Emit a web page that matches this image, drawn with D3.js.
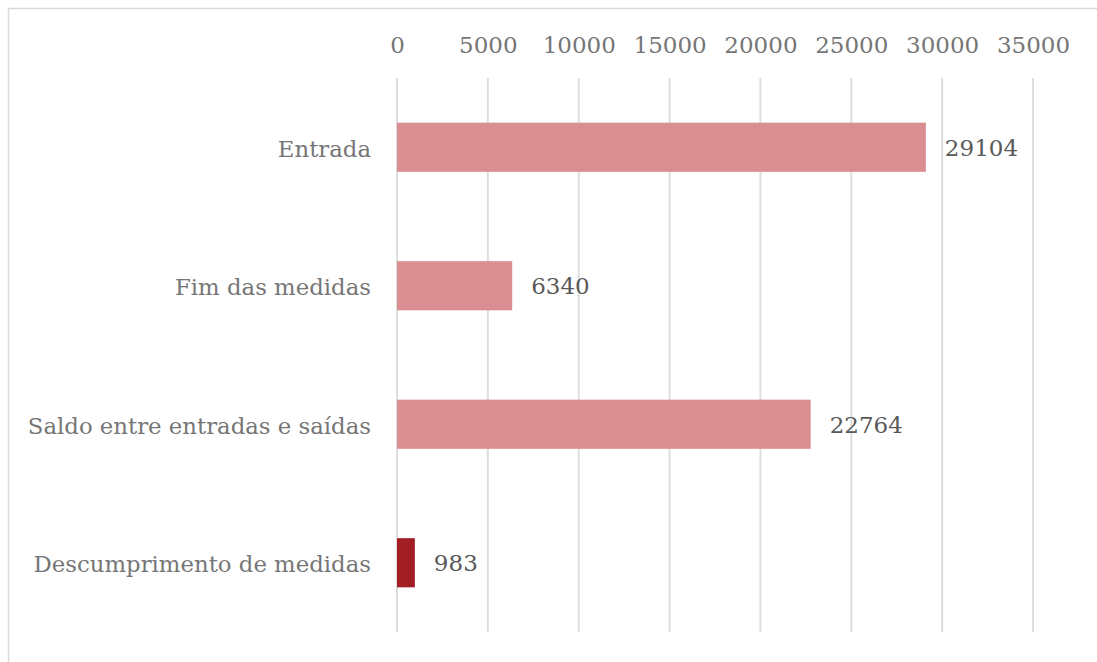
<!DOCTYPE html>
<html>
<head>
<meta charset="utf-8">
<script src="https://cdn.jsdelivr.net/npm/d3@7"></script>
<style>
	body { margin: 0; background: #fff; }
	#chart { width: 1097px; height: 662px; }
	text { font-family: "DejaVu Serif", serif; }
</style>
</head>
<body>
<div id="chart"></div>
<script>
// data
const categories = ['Entrada', 'Fim das medidas', 'Saldo entre entradas e saídas', 'Descumprimento de medidas']
const values = [29104, 6340, 22764, 983]
const barColors = ['#d98f91', '#d98f91', '#d98f91', '#a31d24']
const tickValues = [0, 5000, 10000, 15000, 20000, 25000, 30000, 35000]

const W = 1097, H = 662
const margin = { top: 78, right: 64, bottom: 30, left: 397 }
const width = 1033 - margin.left
const height = 632 - margin.top

const svg = d3.select('#chart').append('svg')
	.attr('width', W)
	.attr('height', H)

// outer frame (only top/left visible in the crop)
svg.append('rect')
	.attr('x', 8.5).attr('y', 8.5)
	.attr('width', W + 10).attr('height', H + 10)
	.attr('fill', 'none')
	.attr('stroke', '#d9d9d9')
	.attr('stroke-width', 1.5)

const g = svg.append('g')
	.attr('transform', `translate(${margin.left},${margin.top})`)

const x = d3.scaleLinear().domain([0, 35000]).range([0, width])
const y = d3.scaleBand().domain(categories).range([0, height]).paddingInner(0.645).paddingOuter(0.3225)

// gridlines
g.selectAll('.grid')
	.data(tickValues)
	.enter().append('line')
	.attr('class', 'grid')
	.attr('x1', d => x(d)).attr('x2', d => x(d))
	.attr('y1', 0).attr('y2', height)
	.attr('stroke', '#dedede')
	.attr('stroke-width', 2)

// top axis labels
const xAxis = g.append('g')
	.call(d3.axisTop(x).tickValues(tickValues).tickFormat(d3.format('d')).tickSize(0).tickPadding(25))
xAxis.select('.domain').remove()
xAxis.selectAll('text')
	.attr('font-size', 23)
	.attr('fill', '#767676')
	.style('font-family', '"DejaVu Serif", serif')

// category labels
const yAxis = g.append('g')
	.call(d3.axisLeft(y).tickSize(0).tickPadding(26))
yAxis.select('.domain').remove()
yAxis.selectAll('text')
	.attr('font-size', 22.8)
	.attr('dy', '0.42em')
	.attr('fill', '#767676')
	.style('font-family', '"DejaVu Serif", serif')

// bars
const data = categories.map((c, i) => ({ cat: c, value: values[i], color: barColors[i] }))
g.selectAll('.bar')
	.data(data)
	.enter().append('rect')
	.attr('class', 'bar')
	.attr('x', x(0))
	.attr('y', d => y(d.cat))
	.attr('width', d => x(d.value) - x(0))
	.attr('height', y.bandwidth())
	.attr('fill', d => d.color)

// value labels
g.selectAll('.label')
	.data(data)
	.enter().append('text')
	.attr('class', 'label')
	.attr('x', d => x(d.value) + 19)
	.attr('y', d => y(d.cat) + y.bandwidth() / 2)
	.attr('dy', '0.38em')
	.attr('font-size', 23)
	.attr('fill', '#595959')
	.text(d => d.value)
</script>
</body>
</html>
